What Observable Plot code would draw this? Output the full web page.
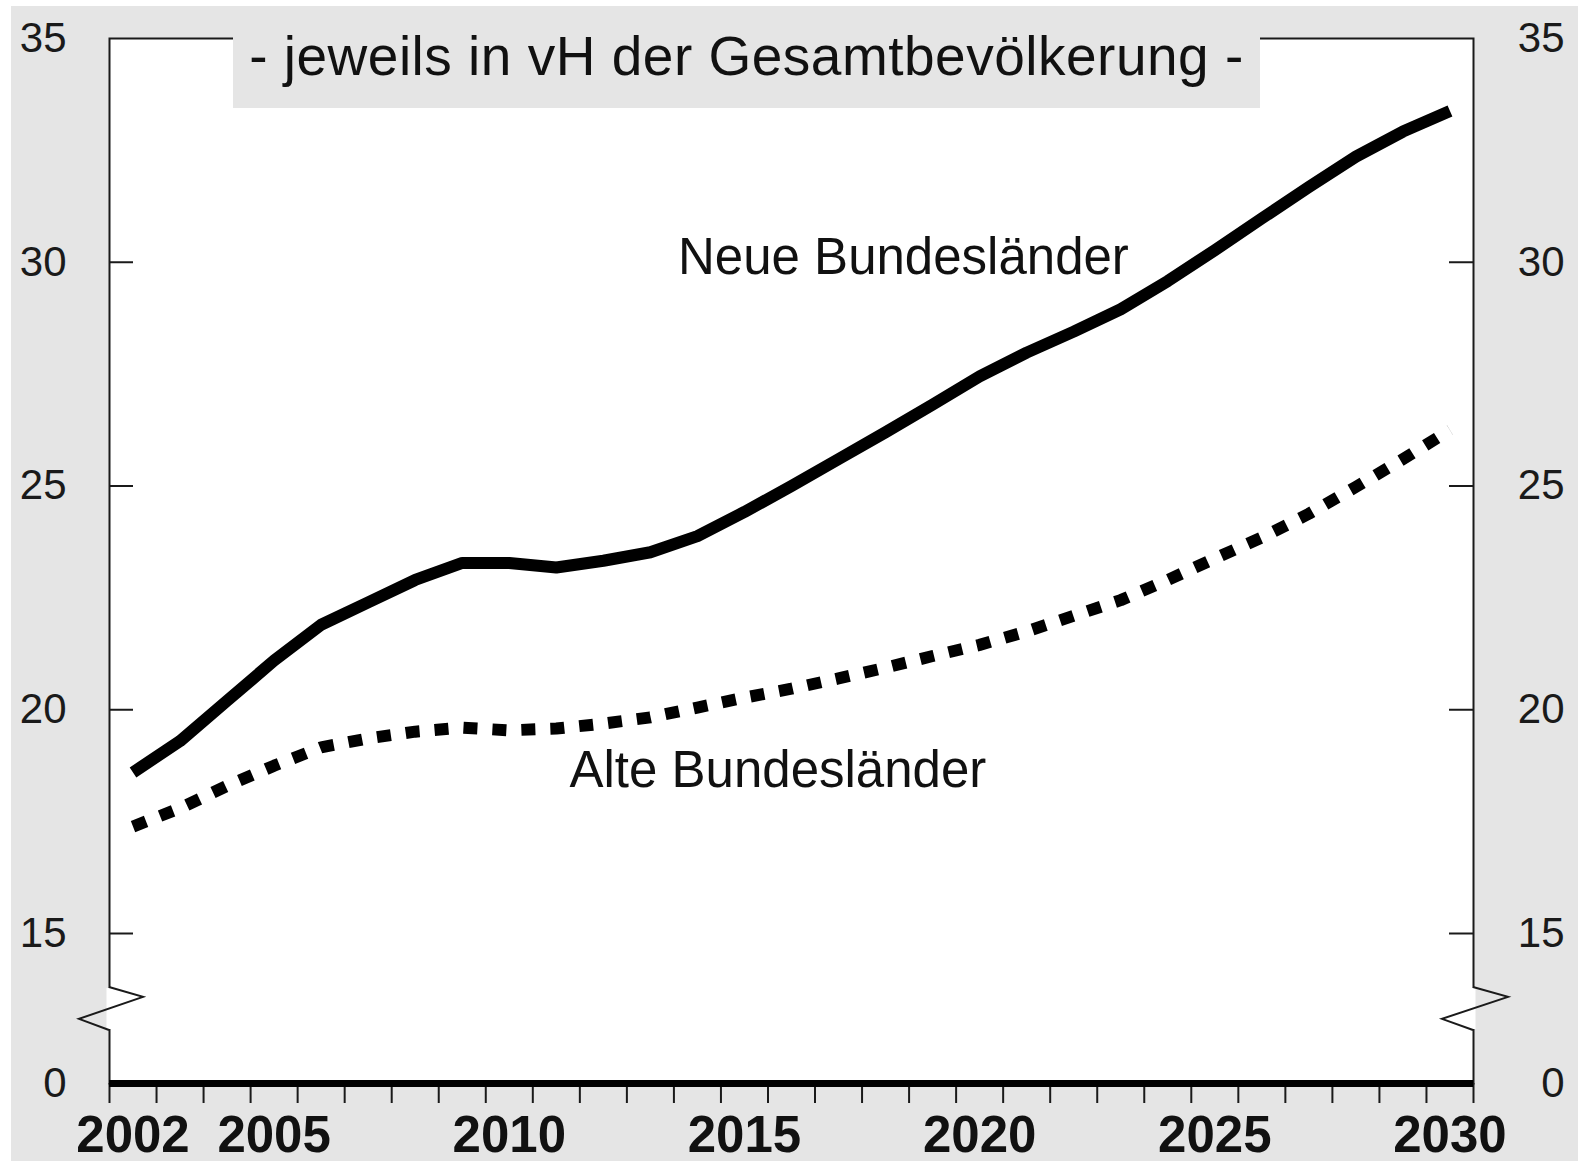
<!DOCTYPE html>
<html>
<head>
<meta charset="utf-8">
<script src="https://cdn.jsdelivr.net/npm/d3@7"></script>
<script src="https://cdn.jsdelivr.net/npm/@observablehq/plot@0.6"></script>
<style>
html, body { margin: 0; padding: 0; background: #ffffff; }
#bg { position: absolute; left: 11px; top: 6px; width: 1567px; height: 1155px; background: #e5e5e5; }
#chart { position: absolute; left: 0; top: 0; }
#title { position: absolute; left: 233px; top: 6px; width: 1027px; height: 102px; box-sizing: border-box;
  padding-top: 23px; background: #e5e5e5; font-family: "Liberation Sans", Arial, sans-serif;
  font-size: 55px; line-height: 55px; letter-spacing: 0.5px; color: #111; text-align: center; white-space: nowrap; }
</style>
</head>
<body>
<div id="bg"></div>
<div id="chart"></div>
<div id="title">- jeweils in vH der Gesamtbevölkerung -</div>
<script>
// ---- data ----
const years = [2002, 2003, 2004, 2005, 2006, 2007, 2008, 2009, 2010, 2011, 2012, 2013, 2014, 2015,
  2016, 2017, 2018, 2019, 2020, 2021, 2022, 2023, 2024, 2025, 2026, 2027, 2028, 2029, 2030];
const neue = [18.6, 19.3, 20.2, 21.1, 21.9, 22.4, 22.9, 23.28, 23.28, 23.18, 23.33, 23.52, 23.88, 24.42,
  25.0, 25.6, 26.2, 26.82, 27.45, 27.98, 28.45, 28.95, 29.58, 30.27, 30.98, 31.68, 32.36, 32.92, 33.38];
const alte = [17.39, 17.8, 18.3, 18.75, 19.16, 19.36, 19.51, 19.6, 19.54, 19.58, 19.69, 19.83, 20.05, 20.27,
  20.47, 20.7, 20.94, 21.2, 21.45, 21.75, 22.1, 22.45, 22.9, 23.38, 23.85, 24.38, 24.98, 25.6, 26.25];
const seriesNames = ["Neue Bundesländer", "Alte Bundesländer"];
const xLabelYears = [2002, 2005, 2010, 2015, 2020, 2025, 2030];
const yTicks = [0, 15, 20, 25, 30, 35];
const yInnerTicks = [15, 20, 25, 30];
const yBreak = [5.3, 9.6];
// label anchors (data units)
const labelX = [2018.88, 2016.21];
const labelY = [30.11, 18.63];

const W = 1583, H = 1161;
const mL = 109, mR = 110, mT = 38, mB = 78;
const plotW = W - mL - mR;

const neueRows = years.map((year, i) => ({year, value: neue[i]}));
const alteRows = years.map((year, i) => ({year, value: alte[i]}));
const labelRows = seriesNames.map((name, i) => ({name, x: labelX[i], y: labelY[i]}));
const yearBounds = years.concat([years[years.length - 1] + 1]);

const ink = "#1a1a1a";

function breakMark(lo, hi) {
  return (index, scales, values, dimensions) => {
    const {width, marginLeft, marginRight} = dimensions;
    const y1 = scales.y(hi), y2 = scales.y(lo);
    const h = y2 - y1;
    const g = d3.create("svg:g");
    for (const [xf, a, b] of [[marginLeft, 34, -30], [width - marginRight, 35, -31]]) {
      g.append("line").attr("x1", xf).attr("x2", xf).attr("y1", y1 + 1).attr("y2", y2 - 1)
        .attr("stroke", "white").attr("stroke-width", 5);
      g.append("polyline")
        .attr("points", [[xf, y1], [xf + a, y1 + 0.23 * h], [xf + b, y1 + 0.74 * h], [xf, y2]].map(p => p.join(",")).join(" "))
        .attr("fill", "none").attr("stroke", ink).attr("stroke-width", 2).attr("stroke-linejoin", "miter");
    }
    return g.node();
  };
}

const chart = Plot.plot({
  width: W,
  height: H,
  marginLeft: mL,
  marginRight: mR,
  marginTop: mT,
  marginBottom: mB,
  style: {background: "transparent", fontFamily: "'Liberation Sans', Arial, sans-serif", color: ink, overflow: "visible"},
  x: {type: "linear", domain: [years[0], years[years.length - 1] + 1], label: null},
  y: {type: "linear", domain: [0, 15, 35], range: [H - mB, H - mB - 150, mT], label: null},
  marks: [
    Plot.frame({fill: "white", stroke: ink, strokeWidth: 2}),
    Plot.ruleY(yInnerTicks, {stroke: ink, strokeWidth: 2, insetRight: plotW - 24}),
    Plot.ruleY(yInnerTicks, {stroke: ink, strokeWidth: 2, insetLeft: plotW - 24}),
    breakMark(yBreak[0], yBreak[1]),
    Plot.axisX(yearBounds, {tickSize: 20, strokeWidth: 2, stroke: ink, tickFormat: () => "", label: null}),
    Plot.axisX(xLabelYears.map(y => y + 0.5), {tickSize: 0, tickPadding: 32, fontSize: 51, fontWeight: "bold",
      tickFormat: d => String(Math.floor(d)), fill: "#111", label: null}),
    Plot.axisY(yTicks, {anchor: "left", tickSize: 0, tickPadding: 43, fontSize: 42, textAnchor: "end", fill: ink, label: null}),
    Plot.axisY(yTicks, {anchor: "right", tickSize: 0, tickPadding: 91, fontSize: 42, textAnchor: "end", fill: ink, label: null}),
    Plot.ruleY([0], {stroke: "black", strokeWidth: 7}),
    Plot.line(alteRows, {x: d => d.year + 0.5, y: "value", stroke: "black", strokeWidth: 12,
      strokeDasharray: "14,15", strokeLinecap: "butt", strokeLinejoin: "round"}),
    Plot.line(neueRows, {x: d => d.year + 0.5, y: "value", stroke: "black", strokeWidth: 12,
      strokeLinecap: "butt", strokeLinejoin: "round"}),
    Plot.text(labelRows, {x: "x", y: "y", text: "name", fontSize: 51, fill: "#111", textAnchor: "middle"})
  ]
});
document.getElementById("chart").appendChild(chart);
</script>
</body>
</html>
